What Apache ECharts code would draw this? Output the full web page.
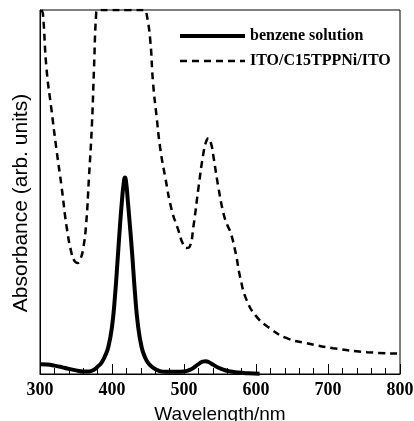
<!DOCTYPE html>
<html>
<head>
<meta charset="utf-8">
<script src="https://cdn.jsdelivr.net/npm/echarts@6/dist/echarts.min.js"></script>
<style>html,body{margin:0;padding:0;background:#fff}#c{width:414px;height:421px}</style>
</head>
<body>
<div id="c"></div>
<script>
// Wavelength ticks
const xTicks = [300, 400, 500, 600, 700, 800];

// benzene solution (solid)
const wlSolid = [300,310,320,330,340,350,360,368,375,380,385,390,395,400,404,408,411,414,416,418,420,422,425,428,432,436,441,446,451,458,465,475,490,500,510,516,522,526,530,534,540,548,556,565,575,590,605];
const absSolid = [2.7,2.6,2.3,1.9,1.4,1.0,0.7,0.7,1.2,2.0,3.0,4.8,7.5,13,21,32,40.5,48,52,54,52,47.5,40.5,33,22,13.5,7.5,4.5,2.8,1.6,0.9,0.6,0.6,0.7,1.3,2.1,3.0,3.4,3.5,3.3,2.6,1.7,1.1,0.7,0.4,0.2,0.1];

// ITO/C15TPPNi/ITO (dashed)
const wlDash = [302,304,309,316,323,330,337,344,348,352,356,360,364,368,372,375,378,380,400,420,446,448,453,457,462,467,474,483,492,498,503,508,513,520,527,531,534,538,541,548,555,560,565,572,578,587,601,619,642,670,707,754,800];
const absDash = [100,99,84,72.5,61.5,51.4,40.4,33,31,30.5,31.5,34.5,41,54,68,84,99,100,100,100,100,99,92,80,70.6,62,54,45,39.6,36,34.6,35,40.4,51,60.7,64,64.8,63,59.6,51,44,41,38.7,33,26.6,20.3,15.7,12.6,9.9,8.5,7.1,6,5.6];

const seriesNames = ['benzene solution', 'ITO/C15TPPNi/ITO'];

const pair = (xs, ys) => xs.map((x, i) => [x, ys[i]]);

const chart = echarts.init(document.getElementById('c'), null, {renderer: 'canvas'});
chart.setOption({
  animation: false,
  backgroundColor: '#fff',
  grid: {left: 40, right: 14, top: 10, bottom: 47, show: true, borderColor: '#000', borderWidth: 1,
         containLabel: false, outerBoundsMode: 'none'},
  legend: {
    orient: 'vertical', left: 178, top: 28, padding: 0,
    itemWidth: 65, itemHeight: 14, itemGap: 9,
    itemStyle: {opacity: 0},
    lineStyle: {width: 'inherit'},
    textStyle: {fontFamily: 'Liberation Serif', fontSize: 16, fontWeight: 'bold', color: '#000', padding: 0},
    data: seriesNames
  },
  xAxis: {
    type: 'value', min: xTicks[0], max: xTicks[xTicks.length-1], interval: 100,
    name: 'Wavelength/nm', nameLocation: 'middle', nameGap: 31,
    nameTextStyle: {fontFamily: 'Liberation Sans', fontSize: 19, color: '#000'},
    axisLine: {lineStyle: {color: '#000', width: 1}},
    axisTick: {inside: true, length: 10, lineStyle: {color: '#000'}},
    minorTick: {show: true, splitNumber: 5, length: 6, lineStyle: {color: '#000'}},
    splitLine: {show: false},
    axisLabel: {fontFamily: 'Liberation Serif', fontSize: 18, fontWeight: 'bold', color: '#000', margin: 7}
  },
  yAxis: {
    type: 'value', min: 0, max: 100,
    name: 'Absorbance (arb. units)', nameLocation: 'middle', nameGap: 8,
    nameTextStyle: {fontFamily: 'Liberation Sans', fontSize: 21, color: '#000', padding: [0, 22, 0, 0]},
    axisLine: {show: true, lineStyle: {color: '#000', width: 1}},
    axisTick: {show: false}, axisLabel: {show: false}, splitLine: {show: false}
  },
  series: [
    {name: seriesNames[0], type: 'line', data: pair(wlSolid, absSolid), smooth: 0.5, symbol: 'none',
     lineStyle: {color: '#000', width: 4}, itemStyle: {color: '#000'}},
    {name: seriesNames[1], type: 'line', data: pair(wlDash, absDash), smooth: 0.5, symbol: 'none',
     lineStyle: {color: '#000', width: 2.5, type: [7, 5]}, itemStyle: {color: '#000'}}
  ]
});
</script>
</body>
</html>
